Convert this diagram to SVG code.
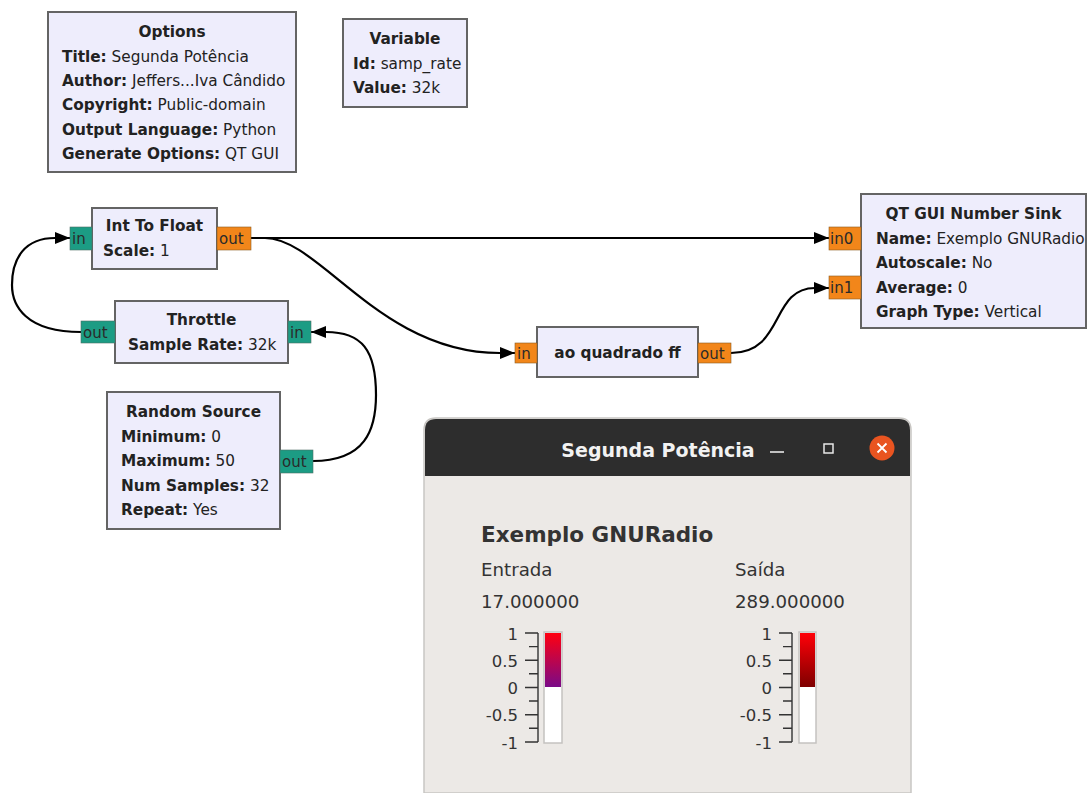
<svg xmlns="http://www.w3.org/2000/svg" width="1088" height="793" viewBox="0 0 1088 793">
  <style>
    .blk { fill: #eeedfc; stroke: #646464; stroke-width: 2; }
    .t { font-family: "DejaVu Sans", sans-serif; font-size: 15.3px; fill: #222; }
    .b { font-weight: bold; }
    .mid { text-anchor: middle; }
    .pi { fill: #1c9c84; stroke: #4f6f66; stroke-width: 0.6; }
    .pf { fill: #f2861a; stroke: #8a5a20; stroke-width: 0.6; }
    .pt { font-family: "DejaVu Sans", sans-serif; font-size: 15px; fill: #2a2a2a; }
    .wire { fill: none; stroke: #000; stroke-width: 2.2; }
    .g { font-family: "DejaVu Sans", sans-serif; fill: #333; }
    .tick { stroke: #333; stroke-width: 1.4; fill: none; }
  </style>
  <defs>
    <marker id="arr" markerUnits="userSpaceOnUse" markerWidth="16" markerHeight="12" refX="15" refY="6" orient="auto">
      <path d="M0,0 L15,6 L0,12 z" fill="#000"/>
    </marker>
    <linearGradient id="gradIn" x1="0" y1="0" x2="0" y2="1">
      <stop offset="0" stop-color="#ff0010"/>
      <stop offset="1" stop-color="#7a0a88"/>
    </linearGradient>
    <linearGradient id="gradOut" x1="0" y1="0" x2="0" y2="1">
      <stop offset="0" stop-color="#ff0008"/>
      <stop offset="1" stop-color="#7e0000"/>
    </linearGradient>
  </defs>

  <rect width="1088" height="793" fill="#ffffff"/>

  <!-- connectors -->
  <g id="connectors">
    <path class="wire" d="M251,238 L829,238" marker-end="url(#arr)"/>
    <path class="wire" d="M251,238 L265,238 C320,238 380,353 500,353 L515,353" marker-end="url(#arr)"/>
    <path class="wire" d="M731,353 C785,353 770,288 815,288 L829,288" marker-end="url(#arr)"/>
    <path class="wire" d="M81,332 C25,332 12,305 12,285 C12,258 25,238 55,238 L70,238" marker-end="url(#arr)"/>
    <path class="wire" d="M313,461 C365,461 376,430 376,395 C376,350 362,332 326,332 L311,332" marker-end="url(#arr)"/>
  </g>

  <!-- Options -->
  <g id="options">
    <rect class="blk" x="48" y="12" width="248" height="160"/>
    <text class="t b mid" x="172" y="37">Options</text>
    <text class="t" x="62" y="62"><tspan class="b">Title:</tspan> Segunda Potência</text>
    <text class="t" x="62" y="86"><tspan class="b">Author:</tspan> Jeffers...Iva Cândido</text>
    <text class="t" x="62" y="110"><tspan class="b">Copyright:</tspan> Public-domain</text>
    <text class="t" x="62" y="135"><tspan class="b">Output Language:</tspan> Python</text>
    <text class="t" x="62" y="159"><tspan class="b">Generate Options:</tspan> QT GUI</text>
  </g>

  <!-- Variable -->
  <g id="variable">
    <rect class="blk" x="343" y="19" width="124" height="88"/>
    <text class="t b mid" x="405" y="44">Variable</text>
    <text class="t" x="353" y="69"><tspan class="b">Id:</tspan> samp_rate</text>
    <text class="t" x="353" y="93"><tspan class="b">Value:</tspan> 32k</text>
  </g>

  <!-- Int To Float -->
  <g id="int_to_float">
    <rect class="blk" x="92" y="208" width="125" height="61"/>
    <text class="t b mid" x="154.5" y="231">Int To Float</text>
    <text class="t" x="103" y="256"><tspan class="b">Scale:</tspan> 1</text>
    <rect class="pi" x="70" y="227" width="22" height="23"/>
    <text class="pt" x="72" y="244">in</text>
    <rect class="pf" x="217" y="227" width="34" height="23"/>
    <text class="pt" x="219" y="244">out</text>
  </g>

  <!-- Throttle -->
  <g id="throttle">
    <rect class="blk" x="115" y="301" width="173" height="62"/>
    <text class="t b mid" x="201.5" y="325">Throttle</text>
    <text class="t" x="128" y="350"><tspan class="b">Sample Rate:</tspan> 32k</text>
    <rect class="pi" x="81" y="321" width="34" height="22"/>
    <text class="pt" x="83" y="338">out</text>
    <rect class="pi" x="288" y="321" width="23" height="22"/>
    <text class="pt" x="290" y="338">in</text>
  </g>

  <!-- Random Source -->
  <g id="random_source">
    <rect class="blk" x="107" y="392" width="173" height="137"/>
    <text class="t b mid" x="193.5" y="417">Random Source</text>
    <text class="t" x="121" y="442"><tspan class="b">Minimum:</tspan> 0</text>
    <text class="t" x="121" y="466"><tspan class="b">Maximum:</tspan> 50</text>
    <text class="t" x="121" y="491"><tspan class="b">Num Samples:</tspan> 32</text>
    <text class="t" x="121" y="515"><tspan class="b">Repeat:</tspan> Yes</text>
    <rect class="pi" x="280" y="450" width="33" height="23"/>
    <text class="pt" x="282" y="467">out</text>
  </g>

  <!-- ao quadrado ff -->
  <g id="ao_quadrado_ff">
    <rect class="blk" x="537" y="327" width="161" height="50"/>
    <text class="t b mid" x="617.5" y="358">ao quadrado ff</text>
    <rect class="pf" x="515" y="343" width="22" height="20"/>
    <text class="pt" x="517" y="359">in</text>
    <rect class="pf" x="698" y="343" width="33" height="20"/>
    <text class="pt" x="700" y="359">out</text>
  </g>

  <!-- QT GUI Number Sink -->
  <g id="qtgui_number_sink">
    <rect class="blk" x="861" y="194" width="225" height="134"/>
    <text class="t b mid" x="973.5" y="219">QT GUI Number Sink</text>
    <text class="t" x="876" y="244"><tspan class="b">Name:</tspan> Exemplo GNURadio</text>
    <text class="t" x="876" y="268"><tspan class="b">Autoscale:</tspan> No</text>
    <text class="t" x="876" y="293"><tspan class="b">Average:</tspan> 0</text>
    <text class="t" x="876" y="317"><tspan class="b">Graph Type:</tspan> Vertical</text>
    <rect class="pf" x="829" y="227" width="32" height="23"/>
    <text class="pt" x="830" y="244">in0</text>
    <rect class="pf" x="829" y="276" width="32" height="23"/>
    <text class="pt" x="830" y="293">in1</text>
  </g>

  <!-- running flowgraph window -->
  <g id="gui_window">
    <path d="M424,430 Q424,418 436,418 L899,418 Q911,418 911,430 L911,793 L424,793 Z" fill="#ece9e6" stroke="#c8c6c3" stroke-width="1.5"/>
    <path d="M425,430 Q425,419 436,419 L899,419 Q910,419 910,430 L910,476 L425,476 Z" fill="#2d2d2d"/>
    <text x="658" y="457" text-anchor="middle" font-family="DejaVu Sans, sans-serif" font-weight="bold" font-size="19" fill="#f2f2f2">Segunda Potência</text>
    <line x1="770" y1="452" x2="784" y2="452" stroke="#e8e8e8" stroke-width="1.6"/>
    <rect x="824" y="444" width="9" height="9" fill="none" stroke="#e8e8e8" stroke-width="1.5"/>
    <circle cx="882" cy="448" r="12.5" fill="#e95420"/>
    <path d="M877.5,443.5 L886.5,452.5 M886.5,443.5 L877.5,452.5" stroke="#fff" stroke-width="1.8"/>

    <text class="g" x="481" y="542" font-size="21.5" font-weight="bold" fill="#1e1e1e">Exemplo GNURadio</text>
    <text class="g" x="481" y="576" font-size="18.2">Entrada</text>
    <text class="g" x="481" y="608" font-size="18.2">17.000000</text>
    <text class="g" x="735" y="576" font-size="18.2">Saída</text>
    <text class="g" x="735" y="608" font-size="18.2">289.000000</text>

    <!-- input gauge -->
    <g id="gauge_in">
      <path class="tick" d="M538,633 L538,742 M525,633 L538,633 M529,646.6 L538,646.6 M525,660.2 L538,660.2 M529,673.8 L538,673.8 M525,687.5 L538,687.5 M529,701 L538,701 M525,714.7 L538,714.7 M529,728.3 L538,728.3 M525,742 L538,742"/>
      <g class="g" font-size="16.5" text-anchor="end">
        <text x="518" y="640">1</text>
        <text x="518" y="667">0.5</text>
        <text x="518" y="694">0</text>
        <text x="518" y="721">-0.5</text>
        <text x="518" y="749">-1</text>
      </g>
      <rect x="544" y="632" width="18" height="111" fill="#ffffff" stroke="#c4c2c0" stroke-width="1.5"/>
      <rect x="545" y="633" width="16" height="54" fill="url(#gradIn)"/>
    </g>

    <!-- output gauge -->
    <g id="gauge_out">
      <path class="tick" d="M792,633 L792,742 M779,633 L792,633 M783,646.6 L792,646.6 M779,660.2 L792,660.2 M783,673.8 L792,673.8 M779,687.5 L792,687.5 M783,701 L792,701 M779,714.7 L792,714.7 M783,728.3 L792,728.3 M779,742 L792,742"/>
      <g class="g" font-size="16.5" text-anchor="end">
        <text x="772" y="640">1</text>
        <text x="772" y="667">0.5</text>
        <text x="772" y="694">0</text>
        <text x="772" y="721">-0.5</text>
        <text x="772" y="749">-1</text>
      </g>
      <rect x="799" y="632" width="17" height="111" fill="#ffffff" stroke="#c4c2c0" stroke-width="1.5"/>
      <rect x="800" y="633" width="15" height="54" fill="url(#gradOut)"/>
    </g>
  </g>
</svg>
